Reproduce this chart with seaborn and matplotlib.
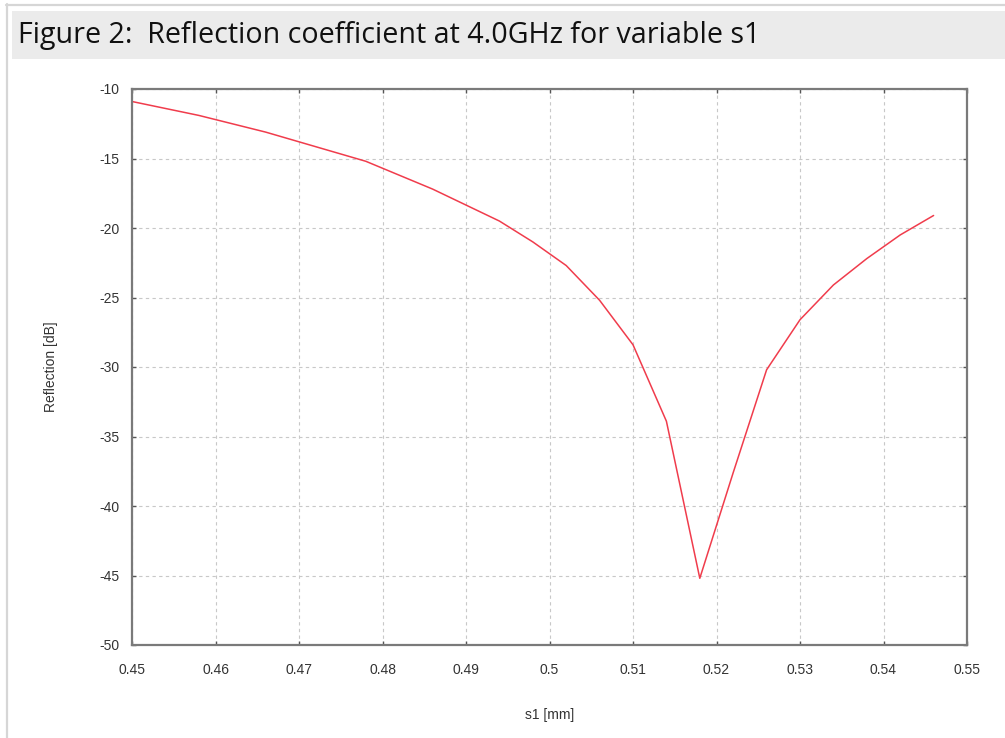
import pandas as pd
import matplotlib
matplotlib.use("Agg")
import matplotlib.pyplot as plt
from matplotlib.patches import Rectangle
from matplotlib.lines import Line2D
import seaborn as sns

# sweep of s1 (mm) and the reflection (dB)
s1_mm = [0.450, 0.454, 0.458, 0.462, 0.466, 0.470, 0.474, 0.478, 0.482,
         0.486, 0.490, 0.494, 0.498, 0.502, 0.506, 0.510, 0.514, 0.518,
         0.522, 0.526, 0.530, 0.534, 0.538, 0.542, 0.546]
refl_db = [-10.9, -11.4, -11.9, -12.5, -13.1, -13.8, -14.5, -15.2, -16.2,
           -17.2, -18.35, -19.5, -21.0, -22.7, -25.2, -28.4, -33.9, -45.2,
           -37.6, -30.2, -26.6, -24.1, -22.2, -20.5, -19.1]
x_ticks = [0.45, 0.46, 0.47, 0.48, 0.49, 0.5, 0.51, 0.52, 0.53, 0.54, 0.55]
x_labels = ["0.45", "0.46", "0.47", "0.48", "0.49", "0.5", "0.51", "0.52", "0.53", "0.54", "0.55"]
y_ticks = [-50, -45, -40, -35, -30, -25, -20, -15, -10]

title = "Figure 2:  Reflection coefficient at 4.0GHz for variable s1"

df = pd.DataFrame({"s1": s1_mm, "refl": refl_db})

sns.set_style("white")
plt.rcParams["font.family"] = ["Liberation Sans Narrow", "Liberation Sans", "DejaVu Sans"]
plt.rcParams["axes.unicode_minus"] = False

W, H = 1005, 738
fig = plt.figure(figsize=(W / 100, H / 100), dpi=100)

# page decorations (document frame + caption band)
fig.add_artist(Line2D([6.5 / W, 6.5 / W], [0, 1 - 4 / H], color="#d6d6d6", lw=1.6))
fig.add_artist(Line2D([6 / W, 1], [1 - 4.5 / H, 1 - 4.5 / H], color="#d6d6d6", lw=1.6))
fig.add_artist(Rectangle((12 / W, 1 - 59 / H), 1 - 12 / W, 48 / H,
                         transform=fig.transFigure, color="#ebebeb", lw=0))
fig.text(18 / W, 1 - 35 / H, title, fontsize=20.6, family=["Open Sans", "DejaVu Sans"],
         color="#111111", va="center", ha="left")

ax = fig.add_axes([132 / W, 1 - 645 / H, 835 / W, 556 / H])
sns.lineplot(data=df, x="s1", y="refl", ax=ax, color="#f03c4c", lw=1.1)

ax.set_xlim(0.45, 0.55)
ax.set_ylim(-50, -10)
ax.set_xticks(x_ticks)
ax.set_xticklabels(x_labels)
ax.set_yticks(y_ticks)
ax.grid(True, color="#c8c8c8", ls=(0, (3, 3)), lw=0.8)
for sp in ax.spines.values():
    sp.set_color("#7a7a7a")
    sp.set_linewidth(1.6)
ax.tick_params(direction="in", length=3, width=1, colors="#555555",
               labelcolor="#333333", labelsize=10, top=True, right=True,
               bottom=True, left=True)
ax.tick_params(axis="x", pad=13)
ax.tick_params(axis="y", pad=9)
ax.set_xlabel("s1 [mm]", fontsize=10, color="#333333", labelpad=22)
ax.set_ylabel("Reflection [dB]", fontsize=10, color="#333333", labelpad=30)

fig.savefig("out.png", dpi=100)
